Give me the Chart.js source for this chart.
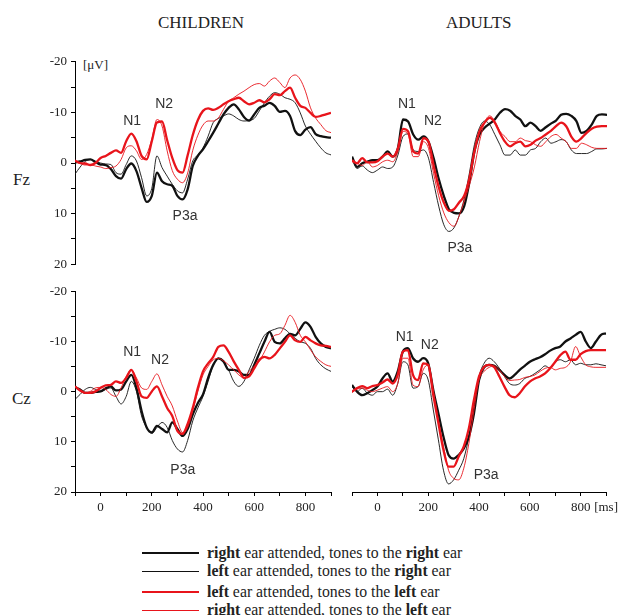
<!DOCTYPE html>
<html>
<head>
<meta charset="utf-8">
<script src="https://cdn.jsdelivr.net/npm/chart.js@4/dist/chart.umd.min.js"></script>
<style>
  body { margin: 0; background: #fff; }
  #wrap { position: relative; width: 622px; height: 615px; overflow: hidden;
          font-family: 'Liberation Serif', 'Times New Roman', serif; color: #222; }
  canvas { position: absolute; }
  .txt { position: absolute; white-space: nowrap; line-height: 1; }
  .leg { position: absolute; left: 142px; width: 57px; }
  .legtxt { position: absolute; left: 207px; font-size: 15.8px; white-space: nowrap; line-height: 1; }
</style>
</head>
<body>
<div id="wrap">
  <div class="txt" style="left:158px;top:14px;font-size:17px;">CHILDREN</div>
  <div class="txt" style="left:446px;top:14px;font-size:17px;">ADULTS</div>
  <div class="txt" style="left:13px;top:171px;font-size:17px;">Fz</div>
  <div class="txt" style="left:12px;top:390px;font-size:17px;">Cz</div>
  <div class="txt" style="left:83px;top:58px;font-size:13px;">[μV]</div>

  <canvas id="childFz" width="340" height="226" style="left:0;top:50px"></canvas>
  <canvas id="adultFz" width="282" height="226" style="left:340px;top:50px"></canvas>
  <canvas id="childCz" width="340" height="245" style="left:0;top:280px"></canvas>
  <canvas id="adultCz" width="282" height="245" style="left:340px;top:280px"></canvas>

  <div class="leg" style="top:552px;border-top:2.5px solid #111"></div>
  <div class="legtxt" style="top:545px"><b>right</b> ear attended, tones to the <b>right</b> ear</div>
  <div class="leg" style="top:571px;border-top:1px solid #111"></div>
  <div class="legtxt" style="top:563px"><b>left</b> ear attended, tones to the <b>right</b> ear</div>
  <div class="leg" style="top:591px;border-top:2.5px solid #e8141b"></div>
  <div class="legtxt" style="top:584px"><b>left</b> ear attended, tones to the <b>left</b> ear</div>
  <div class="leg" style="top:610px;border-top:1px solid #e8141b"></div>
  <div class="legtxt" style="top:602px"><b>right</b> ear attended, tones to the <b>left</b> ear</div>
</div>
<script>
// ---------- DATA ----------
// time axis in ms, one sample every 20 ms
const times = [-100, -80, -60, -40, -20, 0, 20, 40, 60, 80, 100, 120, 140, 160, 180, 200,
  220, 240, 260, 280, 300, 320, 340, 360, 380, 400, 420, 440, 460, 480, 500, 520, 540, 560,
  580, 600, 620, 640, 660, 680, 700, 720, 740, 760, 780, 800, 820, 840, 860, 880, 900];

// series names: rr = right attended / right ear, lr = left attended / right ear,
// ll = left attended / left ear, rl = right attended / left ear   (values in µV)
const childFz_rr = [-0.1, -0.3, -0.6, -0.7, -0.2, 0.3, 0.4, 1.2, 2.6, 3.1, 1.2, 0.1, 1.6, 4.9, 7.7, 6.5,
  1.9, 3.6, 4.2, 4.5, 6.5, 7.2, 5.2, 0.6, -1.4, -2.7, -4.3, -6.0, -7.8, -9.6, -10.9, -11.6, -10.6, -9.1,
  -8.4, -9.6, -10.9, -11.3, -11.9, -11.3, -10.1, -10.3, -9.3, -6.3, -5.5, -6.6, -7.1, -5.7, -5.3, -5.1, -5.0];
const childFz_lr = [2.2, 0.8, -0.3, -0.7, -0.3, 0.0, 0.2, 0.3, 1.9, 2.2, 0.3, -1.4, -0.4, 2.9, 6.5, 5.0,
  -1.4, 0.9, 2.6, 4.2, 5.5, 5.9, 3.2, -0.4, -1.6, -3.0, -5.3, -8.0, -8.8, -9.3, -9.7, -9.3, -8.6, -8.3,
  -8.4, -8.8, -10.3, -11.9, -13.2, -13.9, -13.6, -12.9, -12.6, -11.9, -9.9, -7.3, -5.7, -4.3, -3.0, -2.0, -1.6];
const childFz_ll = [-0.5, 0.0, 0.1, 0.4, 0.0, -1.0, -1.4, -2.0, -2.5, -2.0, -4.3, -5.8, -4.3, -1.4, -0.7, -4.3,
  -8.0, -8.2, -4.5, -1.0, 1.4, 1.9, -1.5, -5.5, -8.5, -10.3, -10.8, -10.5, -10.9, -11.6, -12.2, -12.6, -12.9, -12.2,
  -11.6, -11.9, -12.4, -12.0, -12.6, -13.6, -13.4, -14.2, -14.9, -12.9, -11.3, -10.9, -9.9, -9.1, -9.3, -9.6, -9.9];
const childFz_rl = [-0.4, 0.1, 0.4, 0.3, 0.6, 0.8, 1.1, 0.9, 0.6, -0.7, -3.0, -3.4, -2.4, -0.7, -1.7, -4.7,
  -8.6, -7.3, -2.4, 1.5, 3.2, 3.9, 2.0, -2.5, -5.5, -7.5, -8.3, -8.3, -8.9, -10.6, -12.2, -12.9, -13.6, -14.2,
  -14.9, -15.5, -15.7, -15.2, -16.2, -16.8, -15.9, -14.9, -16.8, -17.4, -16.5, -14.2, -10.9, -8.9, -7.6, -6.4, -6.0];

const adultFz_rr = [-1.4, 0.6, -0.1, -0.4, -0.7, -0.7, -1.4, -2.4, -1.4, -3.0, -8.6, -8.2, -5.7, -4.7, -5.3, -4.3,
  -1.1, 2.9, 6.2, 8.8, 9.5, 9.6, 8.2, 3.6, -2.4, -5.7, -7.0, -7.8, -8.6, -9.9, -10.6, -10.3, -9.3, -8.6,
  -7.3, -8.0, -7.3, -6.4, -7.1, -7.8, -8.4, -9.5, -9.7, -9.3, -8.3, -6.0, -6.4, -7.6, -9.3, -9.6, -9.5];
const adultFz_lr = [-0.9, 0.9, 0.4, 1.2, 1.7, 1.2, 0.6, 0.9, 0.6, -1.7, -5.3, -5.8, -2.7, -2.4, -2.7, -1.1,
  3.6, 8.2, 11.8, 13.1, 12.4, 10.1, 6.8, 1.9, -3.7, -7.0, -8.3, -7.6, -5.7, -3.7, -1.7, -1.7, -2.7, -1.7,
  -1.7, -2.7, -3.0, -4.3, -5.0, -4.0, -4.3, -4.7, -4.3, -2.7, -2.0, -2.0, -2.0, -2.4, -2.9, -2.9, -3.0];
const adultFz_ll = [-0.7, -0.1, -1.1, -0.3, -0.3, -0.5, -1.4, -2.0, -1.4, -3.0, -6.8, -6.3, -2.4, -2.0, -5.0, -4.3,
  0.3, 4.5, 7.5, 9.1, 8.8, 7.5, 6.2, 2.9, -2.4, -6.3, -8.0, -8.9, -8.0, -6.0, -4.3, -3.4, -4.0, -4.3,
  -3.4, -3.7, -4.5, -5.0, -5.7, -6.4, -7.3, -8.0, -7.3, -5.3, -4.3, -5.0, -6.0, -6.8, -7.2, -7.3, -7.3];
const adultFz_rl = [-0.4, -0.1, 0.3, -0.4, 0.6, 0.3, -0.4, -0.7, -0.4, -2.4, -6.3, -5.7, -1.4, -1.4, -4.3, -3.0,
  1.9, 6.2, 9.5, 11.4, 12.1, 10.1, 7.2, 4.2, 0.6, -4.3, -8.0, -9.3, -8.3, -6.3, -5.3, -4.3, -4.3, -5.0,
  -4.5, -4.3, -3.7, -3.4, -4.3, -5.3, -5.7, -5.0, -4.3, -3.0, -3.0, -4.0, -3.7, -3.2, -3.0, -3.0, -3.0];

const childCz_rr = [-0.9, -0.5, 0.2, 0.2, 0.0, -0.1, -0.7, -1.1, -0.3, -0.5, -2.1, -3.4, -0.8, 3.8, 7.1, 8.1,
  6.8, 7.4, 8.1, 6.1, 7.4, 8.8, 7.4, 4.5, 2.2, 0.5, -2.8, -5.4, -6.7, -6.1, -4.4, -4.4, -4.1, -3.4,
  -3.4, -5.4, -7.7, -10.0, -12.0, -10.0, -9.7, -10.7, -11.6, -11.3, -12.6, -13.9, -13.0, -11.0, -9.7, -9.0, -8.7];
const childCz_lr = [1.5, 0.5, -0.5, -0.9, -0.5, -0.1, -0.5, -0.8, 0.9, 2.4, 0.9, -2.1, -0.1, 4.8, 7.1, 8.3,
  7.1, 6.1, 7.1, 9.7, 11.4, 12.0, 9.7, 5.8, 3.2, 0.9, -2.1, -5.4, -6.7, -6.1, -4.4, -2.1, -1.1, -2.1,
  -4.4, -6.7, -9.3, -11.3, -12.1, -12.5, -12.8, -12.5, -11.6, -10.7, -10.0, -9.7, -8.7, -6.7, -5.4, -4.6, -4.1];
const childCz_ll = [-1.1, -0.3, 0.2, 0.2, -0.1, -0.8, -1.3, -1.4, -2.1, -1.8, -2.8, -4.4, -2.1, 0.9, 1.2, -0.1,
  -1.1, 0.9, 3.2, 4.8, 7.8, 8.4, 6.4, 3.2, -0.8, -4.1, -5.7, -7.0, -9.0, -9.3, -8.0, -6.1, -4.4, -2.8,
  -3.1, -4.7, -6.4, -7.0, -6.7, -7.4, -8.7, -10.0, -11.3, -10.3, -10.0, -11.0, -10.3, -9.7, -9.3, -9.2, -9.0];
const childCz_rl = [-1.1, -0.1, 0.2, -0.1, -0.8, -0.9, -0.5, 0.5, 0.9, -0.8, -3.1, -4.4, -2.8, -0.8, -0.5, -2.1,
  -3.6, -1.4, 0.9, 2.8, 5.8, 8.1, 7.1, 3.8, -0.1, -3.4, -5.1, -6.4, -6.7, -6.2, -5.4, -4.4, -3.4, -2.8,
  -4.1, -5.1, -6.1, -8.0, -10.0, -11.3, -11.6, -13.3, -15.3, -13.9, -11.3, -10.0, -8.4, -7.0, -6.1, -5.4, -5.1];

const adultCz_rr = [-1.1, 0.2, 0.9, 0.5, -0.1, -0.8, -2.4, -3.4, -1.8, -3.8, -7.7, -8.4, -6.4, -5.7, -6.4, -5.4,
  -0.1, 4.5, 9.1, 12.7, 13.4, 12.7, 11.4, 9.1, 4.5, -2.1, -4.6, -5.1, -4.9, -4.1, -3.1, -2.4, -3.1, -4.1,
  -4.9, -5.7, -6.2, -6.6, -7.2, -7.9, -8.4, -8.7, -9.7, -10.3, -11.0, -11.6, -9.7, -8.4, -9.7, -11.0, -11.3];
const adultCz_lr = [-0.8, 0.2, -0.5, 0.5, 0.9, 0.2, 0.2, -0.3, 0.9, -1.4, -5.7, -5.1, -0.5, -0.8, -3.4, -2.1,
  3.8, 9.7, 15.7, 18.4, 17.6, 15.7, 13.4, 9.1, 3.2, -2.8, -5.4, -6.4, -5.7, -4.4, -2.8, -1.4, -1.1, -1.4,
  -2.4, -2.8, -3.4, -4.1, -4.9, -4.4, -5.7, -6.1, -5.7, -6.1, -5.1, -5.4, -5.1, -5.1, -5.3, -5.1, -4.9];
const adultCz_ll = [0.2, -0.5, -0.9, -0.5, -0.9, -1.1, -1.6, -2.2, -1.4, -3.1, -7.7, -8.0, -3.1, -2.1, -5.4, -5.1,
  0.9, 6.4, 11.7, 15.0, 15.0, 13.0, 11.0, 7.4, 1.8, -2.8, -4.7, -5.1, -4.6, -2.8, -0.8, 0.9, 1.3, 0.5,
  -0.8, -1.8, -2.4, -2.8, -3.4, -4.4, -5.7, -7.0, -7.7, -6.1, -6.1, -7.2, -7.8, -8.0, -8.0, -8.0, -8.0];
const adultCz_rl = [0.4, -0.3, -0.5, -0.1, 0.2, -0.1, -0.5, -0.8, 0.2, -1.4, -6.4, -6.4, -1.1, -0.8, -4.1, -5.1,
  -0.1, 5.8, 11.0, 15.7, 17.3, 17.6, 15.3, 10.4, 3.8, -2.1, -3.8, -4.6, -4.9, -4.1, -2.8, -2.0, -2.1, -2.2,
  -2.6, -2.8, -3.1, -3.8, -4.4, -4.6, -4.1, -4.4, -4.6, -5.7, -8.7, -6.7, -5.1, -4.7, -4.6, -4.6, -4.6];

// peak labels: [text, ms, µV]
const childFzPeaks = [["N1", 123, -8.3], ["N2", 248, -11.6], ["P3a", 330, 10.5]];
const adultFzPeaks = [["N1", 115, -11.6], ["N2", 217, -8.3], ["P3a", 323, 16.4]];
const childCzPeaks = [["N1", 123, -8.0], ["N2", 232, -6.4], ["P3a", 321, 15.6]];
const adultCzPeaks = [["N1", 107, -10.6], ["N2", 206, -9.0], ["P3a", 428, 16.6]];

// ---------- STYLE ----------
const BLACK = "#111", RED = "#e8141b";
const lineStyles = [
  { color: BLACK, width: 2.3, order: 2 },  // rr
  { color: BLACK, width: 0.9, order: 3 },  // lr
  { color: RED, width: 2.3, order: 0 },    // ll
  { color: RED, width: 0.9, order: 1 },    // rl
];
const SERIF = "'Liberation Serif', 'Times New Roman', serif";

// draws the N1 / N2 / P3a labels at data coordinates
const peakLabels = {
  id: "peakLabels",
  afterDatasetsDraw(chart, args, opts) {
    const { ctx, scales } = chart;
    ctx.save();
    ctx.font = "14px 'Liberation Sans', Arial, sans-serif";
    ctx.fillStyle = "#333";
    ctx.textAlign = "center";
    ctx.textBaseline = "middle";
    for (const [txt, t, v] of opts.items) {
      ctx.fillText(txt, scales.x.getPixelForValue(t), scales.y.getPixelForValue(v));
    }
    ctx.restore();
  }
};

function makePanel(id, series, peaks, { leftAxis, bottomAxis, msLabel }) {
  const datasets = series.map((vals, k) => ({
    data: times.map((t, i) => ({ x: t, y: vals[i] })),
    borderColor: lineStyles[k].color,
    borderWidth: lineStyles[k].width,
    order: lineStyles[k].order,
    pointRadius: 0,
    cubicInterpolationMode: "monotone",
    fill: false,
  }));
  const axisGrid = { display: true, drawOnChartArea: false, drawTicks: true, tickLength: 4, color: "#000" };
  return new Chart(document.getElementById(id), {
    type: "line",
    data: { datasets },
    options: {
      responsive: false,
      animation: false,
      devicePixelRatio: 1,
      layout: {
        padding: leftAxis
          ? { top: bottomAxis ? 9.3 : 10.7, right: 9, bottom: bottomAxis ? 0 : 9, left: 0 }
          : { top: bottomAxis ? 9.3 : 10.7, right: 15, bottom: bottomAxis ? 0 : 9, left: 12 }
      },
      plugins: { legend: { display: false }, tooltip: { enabled: false }, peakLabels: { items: peaks } },
      scales: {
        x: {
          type: "linear", min: -100, max: 900,
          display: bottomAxis,
          border: { display: true, color: "#000", width: 1 },
          grid: axisGrid,
          afterFit(s) { s.height = bottomAxis ? 33 : 0; },
          ticks: {
            stepSize: 100, autoSkip: false, maxRotation: 0, padding: 4,
            color: "#222", font: { family: SERIF, size: 13 },
            callback: v => (msLabel && v === 900) ? "[ms]" : (v >= 0 && v % 200 === 0 ? String(v) : "")
          }
        },
        y: {
          type: "linear", min: -20, max: 20, reverse: true,
          display: leftAxis,
          border: { display: true, color: "#000", width: 1 },
          grid: axisGrid,
          afterFit(s) { s.width = leftAxis ? 75 : 0; },
          ticks: {
            stepSize: 5, autoSkip: false, padding: 4,
            color: "#222", font: { family: SERIF, size: 13 },
            callback: v => (v % 10 === 0 ? String(v) : "")
          }
        }
      }
    },
    plugins: [peakLabels]
  });
}

makePanel("childFz", [childFz_rr, childFz_lr, childFz_ll, childFz_rl], childFzPeaks,
  { leftAxis: true, bottomAxis: false });
makePanel("adultFz", [adultFz_rr, adultFz_lr, adultFz_ll, adultFz_rl], adultFzPeaks,
  { leftAxis: false, bottomAxis: false });
makePanel("childCz", [childCz_rr, childCz_lr, childCz_ll, childCz_rl], childCzPeaks,
  { leftAxis: true, bottomAxis: true });
makePanel("adultCz", [adultCz_rr, adultCz_lr, adultCz_ll, adultCz_rl], adultCzPeaks,
  { leftAxis: false, bottomAxis: true, msLabel: true });
</script>
</body>
</html>
